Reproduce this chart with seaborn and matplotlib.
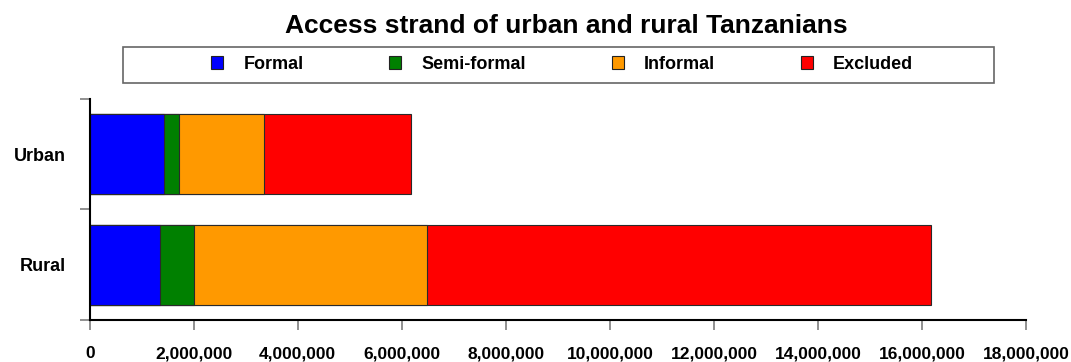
import numpy as np
import pandas as pd
import matplotlib
matplotlib.use("Agg")
import matplotlib.pyplot as plt
from matplotlib.patches import Patch, Rectangle
from matplotlib.ticker import FixedLocator, FuncFormatter
import seaborn as sns

# Population by access strand (number of adults)
areas = ["Urban", "Rural"]
strands = ["Formal", "Semi-formal", "Informal", "Excluded"]
formal = [1420000, 1360000]
semi_formal = [300000, 650000]
informal = [1640000, 4470000]
excluded = [2820000, 9700000]
strand_colors = ["#0000FF", "#008000", "#FF9900", "#FF0000"]
x_ticks = list(range(0, 18000001, 2000000))

sns.set_style("ticks")
plt.rcParams["font.family"] = ["Liberation Sans", "DejaVu Sans"]
plt.rcParams["font.weight"] = "bold"
plt.rcParams["text.color"] = "black"

df = pd.DataFrame({
    "area": areas,
    "Formal": formal,
    "Semi-formal": semi_formal,
    "Informal": informal,
    "Excluded": excluded,
})
# running totals so each segment starts where the previous one ends
cum = df[strands].cumsum(axis=1)
cum["area"] = df["area"]

fig = plt.figure(figsize=(10.71, 3.62), dpi=100)
ax = fig.add_axes([89.7 / 1071, 42 / 362, (1026 - 89.7) / 1071, (320 - 98.7) / 362])

# draw widest running total first, then the shorter ones on top
for strand, color in reversed(list(zip(strands, strand_colors))):
    sns.barplot(data=cum, x=strand, y="area", order=areas, orient="h",
                color=color, saturation=1, width=0.72,
                edgecolor="#2a2a2a", linewidth=0.8, ax=ax)

ax.set_xlim(0, 18000000)
ax.set_ylim(1.5, -0.5)
ax.set_xlabel("")
ax.set_ylabel("")
ax.xaxis.set_major_locator(FixedLocator(x_ticks))
ax.xaxis.set_major_formatter(FuncFormatter(lambda v, p: f"{v:,.0f}"))
ax.tick_params(axis="x", length=7, width=1.3, color="#888888", pad=12,
               labelsize=12.5, labelcolor="black")
ax.tick_params(axis="y", which="major", length=0, pad=17, labelsize=13,
               labelcolor="black")
ax.yaxis.set_minor_locator(FixedLocator([-0.5, 0.5, 1.5]))
ax.tick_params(axis="y", which="minor", length=7, width=1.3, color="#888888")
for lab in ax.get_xticklabels() + ax.get_yticklabels():
    lab.set_fontweight("bold")

for side in ["top", "right"]:
    ax.spines[side].set_visible(False)
for side in ["left", "bottom"]:
    ax.spines[side].set_color("black")
    ax.spines[side].set_linewidth(1.5)

fig.text(566 / 1071, 1 - 33 / 362, "Access strand of urban and rural Tanzanians",
         ha="center", va="baseline", fontsize=19, fontweight="bold",
         color="black")

# legend frame
fig.patches.append(Rectangle((123.3 / 1071, 1 - 82.7 / 362),
                             (994 - 123.3) / 1071, 36 / 362,
                             transform=fig.transFigure, fill=False,
                             edgecolor="#666666", linewidth=1.2))
handles = [Patch(facecolor=c, edgecolor="#222222", linewidth=0.8, label=s)
           for s, c in zip(strands, strand_colors)]
leg = fig.legend(handles=handles, loc="center", ncol=4, frameon=False,
                 bbox_to_anchor=(562 / 1071, 1 - 64.5 / 362),
                 prop={"size": 13, "weight": "bold"},
                 handlelength=0.68, handleheight=0.68, handletextpad=1.1,
                 columnspacing=4.75, borderpad=0.2)
for t in leg.get_texts():
    t.set_color("black")

fig.savefig("out.png", dpi=100)
